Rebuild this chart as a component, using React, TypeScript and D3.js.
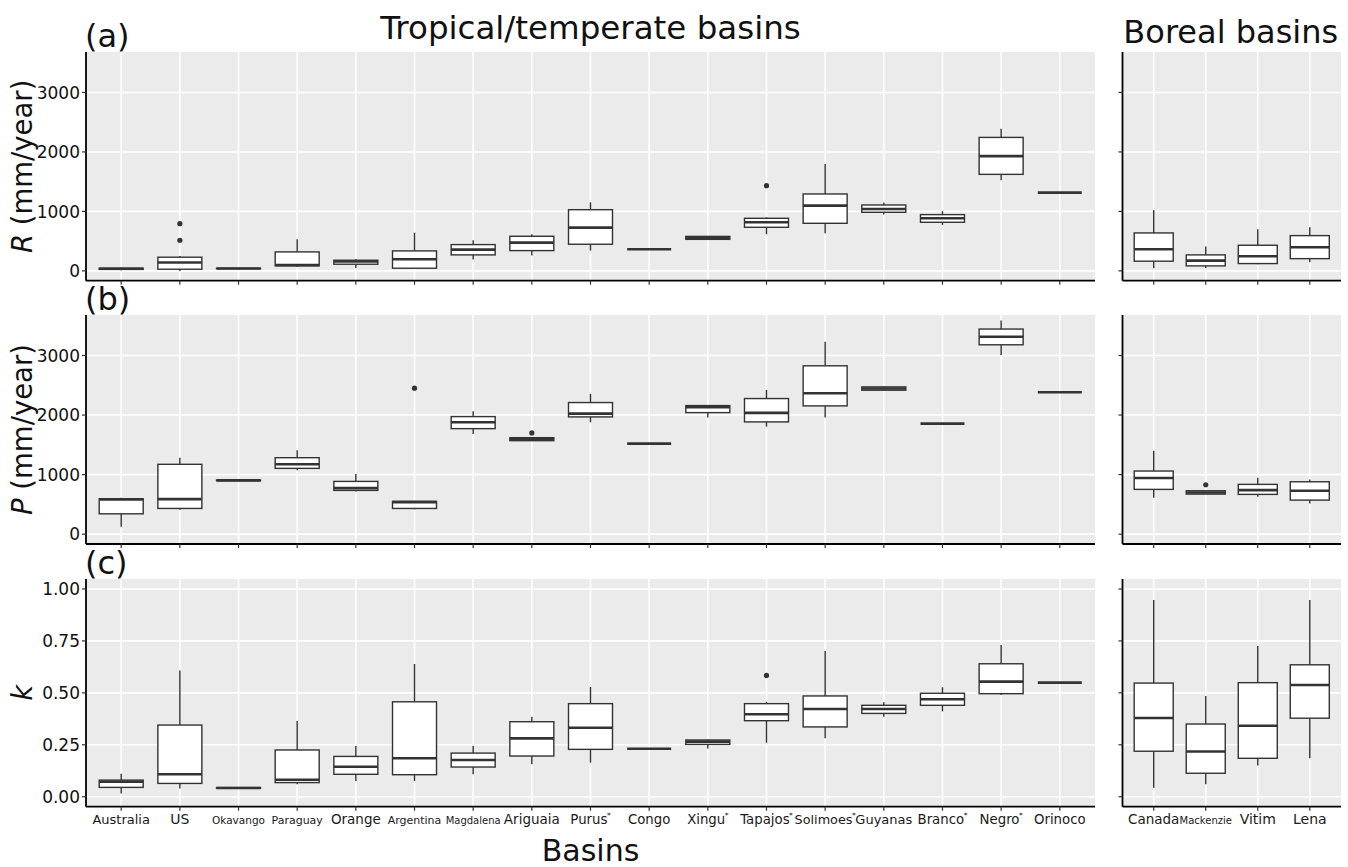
import React from "react";
import * as d3 from "d3";

// ---------- data ----------
const tropicalBasins = ["Australia", "US", "Okavango", "Paraguay", "Orange", "Argentina", "Magdalena", "Ariguaia", "Purus*", "Congo", "Xingu*", "Tapajos*", "Solimoes*", "Guyanas", "Branco*", "Negro*", "Orinoco"];
const borealBasins = ["Canada", "Mackenzie", "Vitim", "Lena"];

// [min, q1, median, q3, max]
const runoffTropical = [
  [10, 25, 35, 45, 55], [0, 28, 140, 230, 250], [35, 38, 40, 43, 45], [70, 84, 100, 319, 532],
  [50, 112, 157, 179, 196], [40, 45, 196, 336, 643], [190, 269, 358, 442, 515], [257, 341, 475, 582, 616],
  [341, 448, 727, 1029, 1153], [364, 364, 364, 364, 364], [535, 530, 559, 580, 585], [616, 733, 817, 884, 900],
  [633, 800, 1097, 1293, 1796], [946, 985, 1041, 1108, 1148], [773, 817, 884, 946, 1003], [1522, 1623, 1930, 2244, 2389],
  [1315, 1315, 1315, 1315, 1315],
];
const runoffTropicalOutliers = [[], [515, 794], [], [], [], [], [], [], [], [], [], [1432], [], [], [], [], []];
const runoffBoreal = [[45, 163, 364, 638, 1019], [50, 84, 173, 269, 408], [110, 123, 247, 431, 700], [146, 206, 398, 593, 734]];
const runoffBorealOutliers = [[], [], [], []];

const precipTropical = [
  [123, 342, 585, 594, 612], [409, 432, 589, 1173, 1284], [895, 898, 903, 908, 910], [1072, 1105, 1173, 1284, 1408],
  [718, 735, 774, 886, 1010], [415, 432, 538, 550, 560], [1683, 1772, 1879, 1974, 2065], [1565, 1570, 1598, 1620, 1625],
  [1879, 1969, 2024, 2210, 2356], [1520, 1520, 1520, 1520, 1520], [1957, 2041, 2131, 2159, 2170], [1806, 1885, 2036, 2277, 2423],
  [1957, 2154, 2367, 2827, 3231], [2410, 2417, 2445, 2473, 2480], [1856, 1856, 1856, 1856, 1856], [3007, 3180, 3315, 3444, 3589],
  [2384, 2384, 2384, 2384, 2384],
];
const precipTropicalOutliers = [[], [], [], [], [], [2452], [], [1700], [], [], [], [], [], [], [], [], []];
const precipBoreal = [[611, 752, 942, 1060, 1402], [673, 673, 700, 729, 729], [628, 668, 740, 836, 947], [516, 572, 729, 880, 920]];
const precipBorealOutliers = [[], [830], [], []];

const kTropical = [
  [0.015, 0.045, 0.072, 0.080, 0.111], [0.040, 0.064, 0.108, 0.345, 0.608], [0.040, 0.041, 0.042, 0.044, 0.045], [0.060, 0.068, 0.082, 0.225, 0.364],
  [0.076, 0.108, 0.144, 0.194, 0.244], [0.076, 0.106, 0.185, 0.457, 0.639], [0.108, 0.143, 0.177, 0.210, 0.244], [0.156, 0.196, 0.281, 0.361, 0.385],
  [0.164, 0.228, 0.332, 0.448, 0.528], [0.231, 0.231, 0.231, 0.231, 0.231], [0.232, 0.252, 0.265, 0.273, 0.275], [0.260, 0.366, 0.397, 0.448, 0.457],
  [0.281, 0.336, 0.422, 0.485, 0.701], [0.385, 0.401, 0.422, 0.440, 0.455], [0.411, 0.440, 0.469, 0.498, 0.527], [0.490, 0.496, 0.554, 0.640, 0.730],
  [0.549, 0.549, 0.549, 0.549, 0.549],
];
const kTropicalOutliers = [[], [], [], [], [], [], [], [], [], [], [], [0.584], [], [], [], [], []];
const kBoreal = [[0.043, 0.219, 0.379, 0.547, 0.947], [0.060, 0.113, 0.218, 0.350, 0.485], [0.150, 0.185, 0.342, 0.549, 0.726], [0.185, 0.378, 0.538, 0.635, 0.947]];
const kBorealOutliers = [[], [], [], []];

const mmTicks = [0, 1000, 2000, 3000];
const kTicks = [0, 0.25, 0.5, 0.75, 1.0];
const kTickLabels = ["0.00", "0.25", "0.50", "0.75", "1.00"];

// ---------- styles ----------
const FONT = "DejaVu Sans, Verdana, sans-serif";
const labelSize: Record<string, number> = {
  Australia: 13, US: 14, Okavango: 10.5, Paraguay: 11, Orange: 13.5, Argentina: 11, Magdalena: 10,
  Ariguaia: 13.5, Solimoes: 12.8, Guyanas: 13, Canada: 13.5, Mackenzie: 10, Vitim: 14, Lena: 14,
};

const MAIN_X: [number, number] = [86, 1095];
const BOREAL_X: [number, number] = [1122.5, 1341];
const ROWS: [number, number][] = [[52, 280.7], [315, 544], [579, 806.7]];

type PanelProps = {
  cats: string[];
  stats: number[][];
  outliers: number[][];
  xr: [number, number];
  yr: [number, number];
  domain: [number, number];
  ticks: number[];
  tickLabels: string[] | null;
  showXLabels: boolean;
};

function XLabel({ name, x, y }: { name: string; x: number; y: number }) {
  const star = name.endsWith("*");
  const base = star ? name.slice(0, -1) : name;
  const fs = labelSize[base] ?? 13.3;
  return (
    <text x={x} y={y} textAnchor="middle" fontSize={fs} fontFamily={FONT} fill="#1a1a1a">
      {base}
      {star && (
        <tspan fontSize={7.5} dy={-6} dx={-0.5}>
          *
        </tspan>
      )}
    </text>
  );
}

function Panel({ cats, stats, outliers, xr, yr, domain, ticks, tickLabels, showXLabels }: PanelProps) {
  const x = d3.scalePoint<string>().domain(cats).range(xr).padding(0.6);
  const y = d3.scaleLinear().domain(domain).range([yr[1], yr[0]]);
  const bw = x.step() * 0.75;
  const ink = "#333333";
  return (
    <g>
      <rect x={xr[0]} y={yr[0]} width={xr[1] - xr[0]} height={yr[1] - yr[0]} fill="#EBEBEB" />
      {ticks.map((t) => (
        <line key={"gy" + t} x1={xr[0]} x2={xr[1]} y1={y(t)} y2={y(t)} stroke="#fff" strokeWidth={1.6} />
      ))}
      {cats.map((c) => (
        <line key={"gx" + c} x1={x(c)} x2={x(c)} y1={yr[0]} y2={yr[1]} stroke="#fff" strokeWidth={1.6} />
      ))}
      {cats.map((c, i) => {
        const [mn, q1, md, q3, mx] = stats[i];
        const cx = x(c)!;
        return (
          <g key={"b" + c}>
            <line x1={cx} x2={cx} y1={y(mx)} y2={y(q3)} stroke={ink} strokeWidth={1.4} />
            <line x1={cx} x2={cx} y1={y(q1)} y2={y(mn)} stroke={ink} strokeWidth={1.4} />
            <rect x={cx - bw / 2} y={y(q3)} width={bw} height={Math.max(0, y(q1) - y(q3))} fill="#fff" stroke={ink} strokeWidth={1.4} />
            <line x1={cx - bw / 2} x2={cx + bw / 2} y1={y(md)} y2={y(md)} stroke={ink} strokeWidth={2.6} />
            {outliers[i].map((o, j) => (
              <circle key={j} cx={cx} cy={y(o)} r={2.6} fill={ink} />
            ))}
          </g>
        );
      })}
      {/* axes */}
      <line x1={xr[0]} x2={xr[0]} y1={yr[0]} y2={yr[1]} stroke="#000" strokeWidth={1.8} />
      <line x1={xr[0]} x2={xr[1]} y1={yr[1]} y2={yr[1]} stroke="#000" strokeWidth={1.8} />
      {ticks.map((t, i) => (
        <g key={"ty" + t}>
          <line x1={xr[0] - 4} x2={xr[0]} y1={y(t)} y2={y(t)} stroke={ink} strokeWidth={1.2} />
          {tickLabels && (
            <text x={xr[0] - 6} y={y(t)} dy="0.36em" textAnchor="end" fontSize={17} fontFamily={FONT} fill="#111">
              {tickLabels[i]}
            </text>
          )}
        </g>
      ))}
      {cats.map((c) => (
        <g key={"tx" + c}>
          <line x1={x(c)} x2={x(c)} y1={yr[1]} y2={yr[1] + 4} stroke={ink} strokeWidth={1.2} />
          {showXLabels && <XLabel name={c} x={x(c)!} y={yr[1] + 17} />}
        </g>
      ))}
    </g>
  );
}

export default function App() {
  const mmDomain: [number, number] = [-165, 3680];
  const kDomain: [number, number] = [-0.048, 1.048];
  const mmLabels = mmTicks.map((t) => String(t));
  const panels = [
    { t: runoffTropical, to: runoffTropicalOutliers, b: runoffBoreal, bo: runoffBorealOutliers, dom: mmDomain, ticks: mmTicks, lab: mmLabels },
    { t: precipTropical, to: precipTropicalOutliers, b: precipBoreal, bo: precipBorealOutliers, dom: mmDomain, ticks: mmTicks, lab: mmLabels },
    { t: kTropical, to: kTropicalOutliers, b: kBoreal, bo: kBorealOutliers, dom: kDomain, ticks: kTicks, lab: kTickLabels },
  ];
  const letters = ["(a)", "(b)", "(c)"];
  return (
    <svg width={1348} height={867} style={{ position: "absolute", left: 0, top: 0, background: "#fff" }} fontFamily={FONT}>
      <text x={(MAIN_X[0] + MAIN_X[1]) / 2} y={39} textAnchor="middle" fontSize={32.5} fill="#111">
        Tropical/temperate basins
      </text>
      <text x={(BOREAL_X[0] + BOREAL_X[1]) / 2 - 1} y={43} textAnchor="middle" fontSize={32} fill="#111">
        Boreal basins
      </text>
      {panels.map((p, r) => (
        <g key={r}>
          <Panel cats={tropicalBasins} stats={p.t} outliers={p.to} xr={MAIN_X} yr={ROWS[r]} domain={p.dom} ticks={p.ticks} tickLabels={p.lab} showXLabels={r === 2} />
          <Panel cats={borealBasins} stats={p.b} outliers={p.bo} xr={BOREAL_X} yr={ROWS[r]} domain={p.dom} ticks={p.ticks} tickLabels={null} showXLabels={r === 2} />
          <text x={85} y={ROWS[r][0] - 5} fontSize={32} fill="#111">
            {letters[r]}
          </text>
        </g>
      ))}
      {/* y titles */}
      <text transform={`translate(32,${(ROWS[0][0] + ROWS[0][1]) / 2}) rotate(-90)`} textAnchor="middle" fontSize={27.5} fill="#111">
        <tspan fontStyle="italic">R</tspan> (mm/year)
      </text>
      <text transform={`translate(32,${(ROWS[1][0] + ROWS[1][1]) / 2}) rotate(-90)`} textAnchor="middle" fontSize={27.5} fill="#111">
        <tspan fontStyle="italic">P</tspan> (mm/year)
      </text>
      <text transform={`translate(32,${(ROWS[2][0] + ROWS[2][1]) / 2}) rotate(-90)`} textAnchor="middle" fontSize={27.5} fill="#111">
        <tspan fontStyle="italic">k</tspan>
      </text>
      <text x={(MAIN_X[0] + MAIN_X[1]) / 2} y={861} textAnchor="middle" fontSize={30} fill="#111">
        Basins
      </text>
    </svg>
  );
}
